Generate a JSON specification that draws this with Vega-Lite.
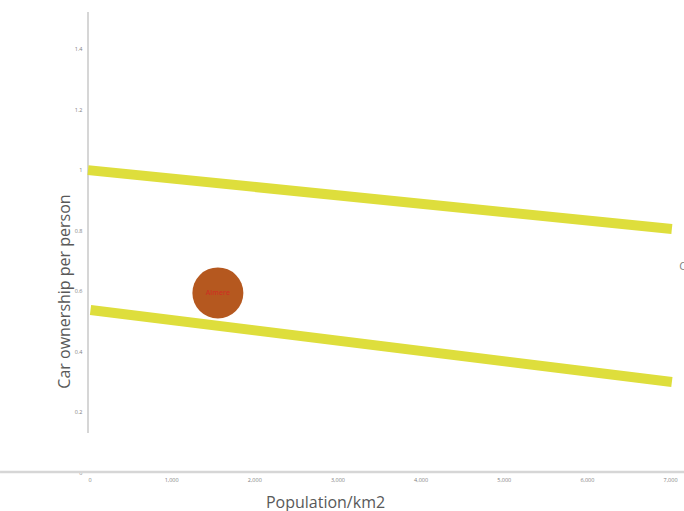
{
  "$schema": "https://vega.github.io/schema/vega-lite/v6.json",
  "width": 596,
  "height": 460,
  "autosize": {"type": "none"},
  "padding": {"left": 88, "top": 12, "right": 0, "bottom": 39},
  "background": "white",
  "config": {"view": {"stroke": null}, "font": "Open Sans"},
  "encoding": {
    "x": {
      "field": "pop", "type": "quantitative",
      "scale": {"domain": [0, 7168], "nice": false, "zero": false},
      "axis": {
        "values": [0, 1000, 2000, 3000, 4000, 5000, 6000, 7000],
        "format": ",.0f", "labelFontSize": 5.5, "labelColor": "#808080",
        "ticks": false, "domain": false, "grid": false, "labelPadding": 5,
        "title": "Population/km2", "titleFontSize": 16, "titleColor": "#595959",
        "titleFontWeight": "normal", "titleX": 237, "titleY": 30, "titleBaseline": "middle"
      }
    },
    "y": {
      "field": "cars", "type": "quantitative",
      "scale": {"domain": [0, 1.5207], "nice": false, "zero": false},
      "axis": {
        "values": [0, 0.2, 0.4, 0.6, 0.8, 1, 1.2, 1.4],
        "format": "~g", "labelFontSize": 5.5, "labelColor": "#808080",
        "ticks": false, "domain": false, "grid": false, "labelPadding": 6,
        "title": "Car ownership per person", "titleFontSize": 16, "titleColor": "#595959",
        "titleFontWeight": "normal", "titleX": -24, "titleY": 279, "titleBaseline": "middle"
      }
    }
  },
  "layer": [
    {
      "data": {"values": [{"pop": -1058, "pop2": 7168, "cars": 0}]},
      "mark": {"type": "rule", "clip": false, "color": "#d6d6d6", "strokeWidth": 2.5},
      "encoding": {"x2": {"field": "pop2"}}
    },
    {
      "data": {"values": [{"pop": 0, "cars": 0.129, "cars2": 1.5207}]},
      "mark": {"type": "rule", "color": "#d6d6d6", "strokeWidth": 2},
      "encoding": {"y2": {"field": "cars2"}}
    },
    {
      "data": {"values": [
        {"series": "upper", "pop": 0, "cars": 0.998},
        {"series": "upper", "pop": 7022, "cars": 0.803},
        {"series": "lower", "pop": 30, "cars": 0.5355},
        {"series": "lower", "pop": 7022, "cars": 0.2975}
      ]},
      "mark": {"type": "line", "color": "#dede3c", "strokeWidth": 10, "strokeCap": "butt"},
      "encoding": {"detail": {"field": "series"}}
    },
    {
      "data": {"values": [{"pop": 1562, "cars": 0.592, "city": "Almere"}]},
      "mark": {"type": "point", "shape": "circle", "filled": true, "color": "#b5581f", "opacity": 1, "size": 2600}
    },
    {
      "data": {"values": [{"pop": 1562, "cars": 0.592, "city": "Almere"}]},
      "mark": {"type": "text", "color": "#cc3322", "fontSize": 7, "fontWeight": 600, "align": "center", "baseline": "middle"},
      "encoding": {"text": {"field": "city"}}
    },
    {
      "data": {"values": [{"pop": 7110, "cars": 0.678, "city": "C"}]},
      "mark": {"type": "text", "color": "#808080", "fontSize": 11, "align": "left", "baseline": "middle", "clip": false},
      "encoding": {"text": {"field": "city"}}
    }
  ]
}
